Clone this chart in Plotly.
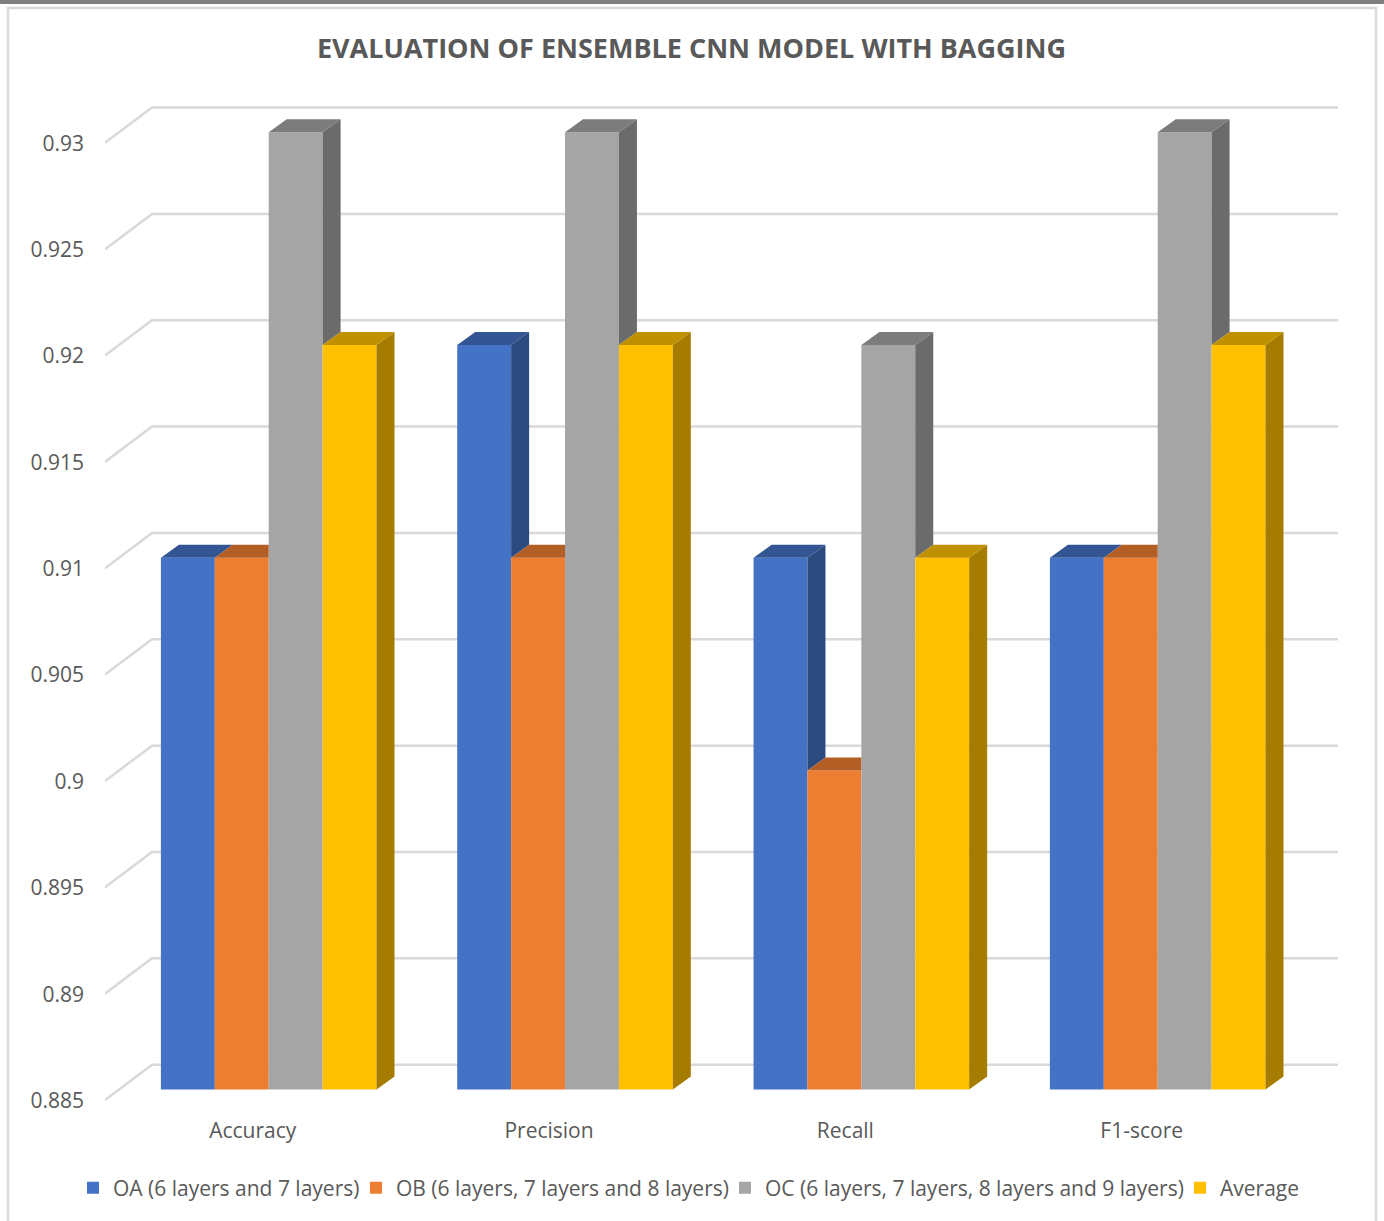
import plotly.graph_objects as go

# Chart data
categories = ["Accuracy", "Precision", "Recall", "F1-score"]
series_names = [
    "OA (6 layers and 7 layers)",
    "OB (6 layers, 7 layers and 8 layers)",
    "OC (6 layers, 7 layers, 8 layers and 9 layers)",
    "Average",
]
oa_values = [0.91, 0.92, 0.91, 0.91]
ob_values = [0.91, 0.91, 0.90, 0.91]
oc_values = [0.93, 0.93, 0.92, 0.93]
avg_values = [0.92, 0.92, 0.91, 0.92]
y_ticks = [0.885, 0.89, 0.895, 0.9, 0.905, 0.91, 0.915, 0.92, 0.925, 0.93]
y_tick_labels = ["0.885", "0.89", "0.895", "0.9", "0.905", "0.91", "0.915", "0.92", "0.925", "0.93"]

series_values = [oa_values, ob_values, oc_values, avg_values]
front_colors = ["#4472C4", "#ED7D31", "#A5A5A5", "#FFC000"]
top_colors = ["#335593", "#B25E25", "#7C7C7C", "#BF9000"]
side_colors = ["#2B4A80", "#A0561F", "#6B6B6B", "#A67C00"]
legend_text_px = [113, 396, 765, 1220]

# Page geometry and axis scales
WIDTH, HEIGHT = 1384, 1221
TEXT = "#595959"
GRID = "#D9D9D9"
PX_PER_GROUP = 296.33
PX_PER_UNIT = 21270
FIRST_GROUP_PX = 268.7
PLOT_LEFT, PLOT_RIGHT = 105, 1338
PLOT_TOP, PLOT_BOTTOM = 60, 1110
FLOOR_PX = 1089.5
AXIS_BASE = 0.885
LEGEND_Y_PX = 1188
LEGEND_TEXT_INSET = 40

x_range = [(PLOT_LEFT - FIRST_GROUP_PX) / PX_PER_GROUP, (PLOT_RIGHT - FIRST_GROUP_PX) / PX_PER_GROUP]
y_range = [AXIS_BASE - (PLOT_BOTTOM - FLOOR_PX) / PX_PER_UNIT, AXIS_BASE + (FLOOR_PX - PLOT_TOP) / PX_PER_UNIT]

BAR_W = 53.9 / PX_PER_GROUP
DEPTH_X = 18 / PX_PER_GROUP
DEPTH_Y = 13 / PX_PER_UNIT
WALL_BACK_Y = 24.8 / PX_PER_UNIT
WALL_FRONT_Y = 10.5 / PX_PER_UNIT
WALL_INSET_X = 47 / PX_PER_GROUP

fig = go.Figure()

# Back wall: one slanted run and one horizontal run per tick value
grid_x, grid_y = [], []
for tick in y_ticks:
    grid_x += [x_range[0], x_range[0] + WALL_INSET_X, x_range[1], None]
    grid_y += [tick - WALL_FRONT_Y, tick + WALL_BACK_Y, tick + WALL_BACK_Y, None]
fig.add_trace(go.Scatter(x=grid_x, y=grid_y, mode="lines", line=dict(color=GRID, width=2.5),
                         showlegend=False, hoverinfo="skip", zorder=0))

# Front faces; each series carries its own legend so the entries sit at set offsets
group_positions = list(range(len(categories)))
legend_ids = ["legend", "legend2", "legend3", "legend4"]
for name, values, color, legend_id in zip(series_names, series_values, front_colors, legend_ids):
    fig.add_trace(go.Bar(x=group_positions, y=[v - AXIS_BASE for v in values],
                         base=AXIS_BASE, name=name, legend=legend_id,
                         marker=dict(color=color, line=dict(width=0)),
                         customdata=values, hovertemplate="%{customdata}<extra>" + name + "</extra>",
                         zorder=1))

# Side and top faces, cut back where the neighbouring bar hides them
for s, values in enumerate(series_values):
    side_x, side_y, top_x, top_y = [], [], [], []
    for g, value in enumerate(values):
        left = g + (s - 2) * BAR_W
        right = left + BAR_W
        neighbour = series_values[s + 1][g] if s + 1 < len(series_values) else AXIS_BASE
        side_x += [right, right + DEPTH_X, right + DEPTH_X, right, None]
        if neighbour < value:
            side_y += [value, value + DEPTH_Y, neighbour + DEPTH_Y, neighbour, None]
        else:
            side_y += [value, value, value, value, None]
        far_right = right if neighbour > value else right + DEPTH_X
        top_x += [left, left + DEPTH_X, far_right, right, None]
        top_y += [value, value + DEPTH_Y, value + DEPTH_Y, value, None]
    for xs, ys, color in ((side_x, side_y, side_colors[s]), (top_x, top_y, top_colors[s])):
        fig.add_trace(go.Scatter(x=xs, y=ys, mode="lines", fill="toself", fillcolor=color,
                                 line=dict(width=0, color=color), showlegend=False,
                                 hoverinfo="skip", zorder=2))

legends = {
    legend_id: dict(orientation="h", x=(text_px - LEGEND_TEXT_INSET) / WIDTH, xanchor="left",
                    y=1 - LEGEND_Y_PX / HEIGHT, yanchor="middle",
                    font=dict(size=21, color=TEXT), bgcolor="rgba(0,0,0,0)")
    for legend_id, text_px in zip(legend_ids, legend_text_px)
}

fig.update_layout(
    width=WIDTH,
    height=HEIGHT,
    autosize=False,
    margin=dict(l=0, r=0, t=0, b=0, autoexpand=False),
    paper_bgcolor="white",
    plot_bgcolor="rgba(0,0,0,0)",
    barmode="group",
    bargap=1 - 4 * BAR_W,
    bargroupgap=0,
    font=dict(family="Open Sans", color=TEXT, size=21),
    title=dict(text="<b>EVALUATION OF ENSEMBLE CNN MODEL WITH BAGGING</b>",
               x=691.5 / WIDTH, xanchor="center", y=1 - 49 / HEIGHT, yanchor="middle",
               font=dict(family="Open Sans", size=27, color=TEXT)),
    xaxis=dict(domain=[PLOT_LEFT / WIDTH, PLOT_RIGHT / WIDTH], range=x_range,
               tickmode="array", tickvals=group_positions, ticktext=categories,
               ticks="", showgrid=False, zeroline=False, showline=False,
               ticklabelshift=-16, ticklabelstandoff=6, tickfont=dict(size=21, color=TEXT)),
    yaxis=dict(domain=[1 - PLOT_BOTTOM / HEIGHT, 1 - PLOT_TOP / HEIGHT], range=y_range,
               tickmode="array", tickvals=y_ticks, ticktext=y_tick_labels,
               ticks="", showgrid=False, zeroline=False, showline=False,
               ticklabelshift=11, ticklabelstandoff=20, tickfont=dict(size=21, color=TEXT)),
    shapes=[
        # Dark strip along the top edge and the thin outer frame
        dict(type="rect", xref="paper", yref="paper", x0=0, x1=1, y0=1 - 4 / HEIGHT, y1=1,
             fillcolor="#7F7F7F", line=dict(width=0), layer="below"),
        dict(type="rect", xref="paper", yref="paper", x0=8 / WIDTH, x1=1376 / WIDTH,
             y0=-0.01, y1=1 - 8 / HEIGHT, fillcolor="rgba(0,0,0,0)",
             line=dict(color=GRID, width=2.5), layer="below"),
    ],
    **legends,
)

fig.write_html("out.html")
